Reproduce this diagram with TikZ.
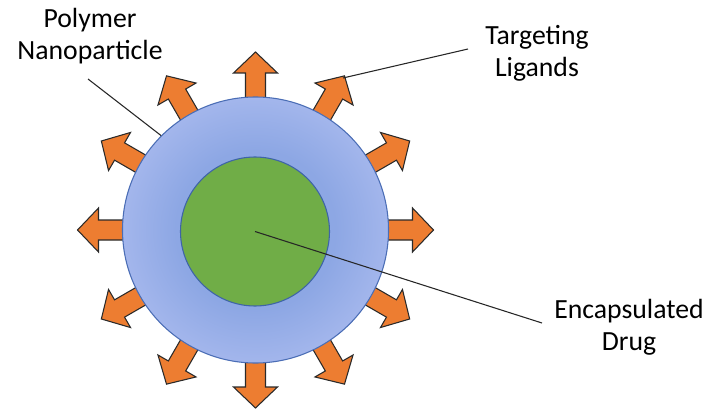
\documentclass[tikz,border=0pt]{standalone}
\usepackage{fontspec}
\setmainfont{Carlito}
\definecolor{ligandfill}{HTML}{ED7D31}
\definecolor{ligandline}{HTML}{2A2A2A}
\definecolor{npin}{HTML}{8DA7E4}
\definecolor{npout}{HTML}{A3B6EC}
\definecolor{npline}{HTML}{4A6DB5}
\definecolor{drugfill}{HTML}{70AD47}
\definecolor{drugline}{HTML}{3E64A8}
\definecolor{leader}{HTML}{262626}
\pgfdeclareradialshading{npshade}{\pgfpoint{0bp}{0bp}}{color(0bp)=(npin); color(15bp)=(npin); color(25bp)=(npout); color(50bp)=(npout)}
\tikzset{
  ligand/.style={fill=ligandfill, draw=ligandline, line width=0.8pt, line join=miter},
  label text/.style={font=\fontsize{20.8}{24}\selectfont, align=center, inner sep=0pt, text=black},
  leaderline/.style={draw=leader, line width=0.8pt},
}
\begin{document}
\begin{tikzpicture}[x=0.75pt, y=-0.75pt]
\useasboundingbox (0,0) rectangle (711,410);
% ligand arrows (behind particle)
\foreach \a in {0,30,...,330} {
  \begin{scope}[shift={(255.5,230)}, rotate=\a]
    \draw[ligand] (110,-10) -- (157,-10) -- (157,-22) -- (178,0) -- (157,22) -- (157,10) -- (110,10) -- cycle;
  \end{scope}
}
% polymer nanoparticle
\node[circle, minimum size=199.5pt, inner sep=0pt, draw=npline, line width=0.8pt, shading=npshade] (np) at (255.5,230) {};
% encapsulated drug
\node[circle, minimum size=111.75pt, inner sep=0pt, draw=drugline, line width=0.8pt, fill=drugfill] (drug) at (255,231.5) {};
% labels (anchor = baseline of the last line)
\node[label text, anchor=base] (polylab) at (90,60) {Polymer\\Nanoparticle};
\node[label text, anchor=base] (targlab) at (537,77) {Targeting\\Ligands};
\node[label text, anchor=base] (druglab) at (629,350) {Encapsulated\\Drug};
% leader end points
\coordinate (polystart) at (88,79);
\coordinate (targstart) at (468,49);
\coordinate (tip60) at (343,78);
\coordinate (drugend) at (542,323);
\draw[leaderline] (polystart) -- (np.135);
\draw[leaderline] (targstart) -- (tip60);
\draw[leaderline] (drug.center) -- (drugend);
\end{tikzpicture}
\end{document}
